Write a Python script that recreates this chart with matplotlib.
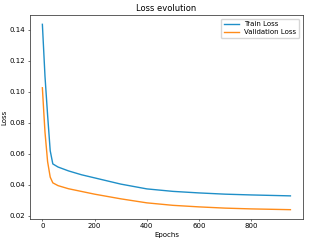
import matplotlib.pyplot as plt

train_epochs = [0, 10, 20, 30, 40, 60, 100, 150, 200, 300, 400, 500, 600, 700, 800, 950]
train_loss = [0.1435, 0.110, 0.085, 0.062, 0.0535, 0.0515, 0.049, 0.0465, 0.0445,
              0.0405, 0.0374, 0.0358, 0.0348, 0.0340, 0.0335, 0.0329]

val_epochs = [0, 5, 10, 20, 30, 40, 60, 100, 200, 300, 400, 500, 600, 700, 800, 950]
val_loss = [0.1026, 0.088, 0.074, 0.055, 0.045, 0.0413, 0.0395, 0.0375, 0.034,
            0.031, 0.0284, 0.0268, 0.0258, 0.0250, 0.0245, 0.0240]

fs = 5.0
plt.rcParams["font.size"] = fs

fig = plt.figure(figsize=(3.09, 2.43), dpi=100)
ax = fig.add_axes([0.097, 0.099, 0.883, 0.839])
ax.plot(train_epochs, train_loss, color="#1f8fc8", lw=1.0, label="Train Loss")
ax.plot(val_epochs, val_loss, color="#ff8c1a", lw=1.0, label="Validation Loss")
ax.set_title("Loss evolution", fontsize=6.0, pad=3)
ax.set_xlabel("Epochs", fontsize=fs, labelpad=2)
ax.set_ylabel("Loss", fontsize=fs, labelpad=2)
ax.set_xticks([0, 200, 400, 600, 800])
ax.set_yticks([0.02, 0.04, 0.06, 0.08, 0.10, 0.12, 0.14])
ax.tick_params(labelsize=fs, length=1.7, width=0.4, pad=1.5)
for s in ax.spines.values():
    s.set_linewidth(0.6)
    s.set_color("#444444")
ax.legend(loc="upper right", fontsize=fs, frameon=True, handlelength=2.2,
          borderpad=0.4, labelspacing=0.3, framealpha=0.8)
fig.savefig("out.png", dpi=100)
plt.close(fig)
